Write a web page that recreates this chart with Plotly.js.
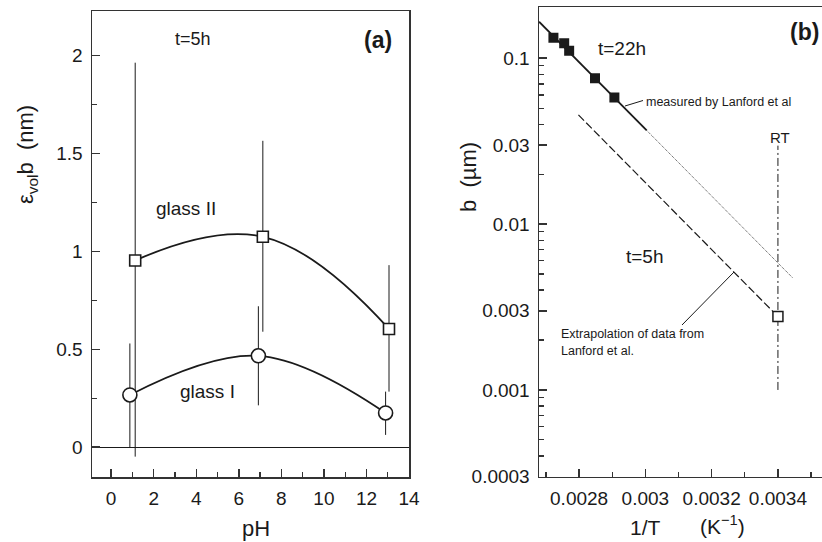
<!DOCTYPE html>
<html>
<head>
<meta charset="utf-8">
<script src="https://cdn.plot.ly/plotly-3.0.1.min.js"></script>
<style>html,body{margin:0;padding:0;background:#fff}#chart{width:822px;height:542px}</style>
</head>
<body>
<div id="chart"></div>
<script>
// ---------- Panel (a) data ----------
const pH_glass2 = [1.13, 7.13, 13.06];
const val_glass2 = [0.954, 1.075, 0.604];
const errTop_glass2 = [1.964, 1.565, 0.93];
const errBot_glass2 = [-0.048, 0.59, 0.284];

const pH_glass1 = [0.88, 6.92, 12.9];
const val_glass1 = [0.267, 0.467, 0.175];
const errTop_glass1 = [0.53, 0.72, 0.284];
const errBot_glass1 = [0.0, 0.214, 0.063];

const xTicksA = [0, 2, 4, 6, 8, 10, 12, 14];
const xMinorA = [1, 3, 5, 7, 9, 11, 13];
const yTicksA = [0, 0.5, 1, 1.5, 2];
const yTickTextA = ['0', '0.5', '1', '1.5', '2'];
const yMinorA = [0.25, 0.75, 1.25, 1.75];

// ---------- Panel (b) data ----------
const invT_22h = [0.0027225, 0.002755, 0.00277, 0.002848, 0.0029065];
const b_22h = [0.133, 0.123, 0.111, 0.0758, 0.0579];

const fitSolid_x = [0.002679, 0.003004];
const fitSolid_y = [0.166, 0.0367];
const fitDotted_x = [0.003004, 0.003445];
const fitDotted_y = [0.0367, 0.00473];

const extra5h_x = [0.002798, 0.0034];
const extra5h_y = [0.0455, 0.00277];

const point5h_x = [0.0034];
const point5h_y = [0.00277];

const rt_x = [0.0034, 0.0034];
const rt_y = [0.001, 0.0297];

const xTicksB = [0.0028, 0.003, 0.0032, 0.0034];
const xTickTextB = ['0.0028', '0.003', '0.0032', '0.0034'];
const xMinorB = [0.0027, 0.0029, 0.0031, 0.0033, 0.0035];
const yTicksB = [0.0003, 0.001, 0.003, 0.01, 0.03, 0.1];
const yTickTextB = ['0.0003', '0.001', '0.003', '0.01', '0.03', '0.1'];

// ---------- helpers ----------
const W = 822, H = 542;
const px = v => v / W;
const py = v => 1 - v / H;
const FONT = 'Liberation Sans, Arial, Helvetica, sans-serif';
const INK = '#1a1a1a';

const yMinorB = [];
[0.0001, 0.001, 0.01, 0.1].forEach(d => { for (let k = 2; k <= 9; k++) yMinorB.push(d * k); });

const diff = (a, b) => a.map((v, i) => v - b[i]);

const traces = [
  // glass II
  {
    x: pH_glass2, y: val_glass2, xaxis: 'x', yaxis: 'y', mode: 'lines+markers',
    line: {color: INK, width: 1.8, shape: 'spline', smoothing: 1.2},
    marker: {symbol: 'square', size: 11, color: '#fff', line: {color: INK, width: 1.6}},
    error_y: {type: 'data', symmetric: false, array: diff(errTop_glass2, val_glass2),
              arrayminus: diff(val_glass2, errBot_glass2), color: INK, thickness: 1, width: 0}
  },
  // glass I
  {
    x: pH_glass1, y: val_glass1, xaxis: 'x', yaxis: 'y', mode: 'lines+markers',
    line: {color: INK, width: 1.8, shape: 'spline', smoothing: 1.1},
    marker: {symbol: 'circle', size: 14, color: '#fff', line: {color: INK, width: 1.6}},
    error_y: {type: 'data', symmetric: false, array: diff(errTop_glass1, val_glass1),
              arrayminus: diff(val_glass1, errBot_glass1), color: INK, thickness: 1, width: 0}
  },
  // panel b lines
  {x: fitSolid_x, y: fitSolid_y, xaxis: 'x2', yaxis: 'y2', mode: 'lines',
   line: {color: INK, width: 1.8}},
  {x: fitDotted_x, y: fitDotted_y, xaxis: 'x2', yaxis: 'y2', mode: 'lines',
   line: {color: '#444', width: 1, dash: '1px,1px'}},
  {x: extra5h_x, y: extra5h_y, xaxis: 'x2', yaxis: 'y2', mode: 'lines',
   line: {color: INK, width: 1.2, dash: '8px,3px'}},
  {x: rt_x, y: rt_y, xaxis: 'x2', yaxis: 'y2', mode: 'lines',
   line: {color: INK, width: 1, dash: '8px,3px,2px,3px'}},
  {x: invT_22h, y: b_22h, xaxis: 'x2', yaxis: 'y2', mode: 'markers',
   marker: {symbol: 'square', size: 10, color: INK, line: {width: 0}}},
  {x: point5h_x, y: point5h_y, xaxis: 'x2', yaxis: 'y2', mode: 'markers',
   marker: {symbol: 'square', size: 10, color: '#fff', line: {color: INK, width: 1.5}}}
];

const axisCommon = {
  showline: true, linecolor: '#333', linewidth: 1.5, showgrid: false,
  ticks: 'inside', ticklen: 8, tickwidth: 1.5, tickcolor: '#333',
  tickfont: {family: FONT, size: 19, color: INK}, automargin: false, fixedrange: true
};

const layout = {
  width: W, height: H,
  margin: {l: 0, r: 0, t: 0, b: 0, pad: 0},
  paper_bgcolor: '#fff', plot_bgcolor: '#fff',
  showlegend: false,
  font: {family: FONT, color: INK},
  xaxis: Object.assign({}, axisCommon, {
    domain: [px(92), px(409)], range: [-0.9, 14], anchor: 'y', mirror: true,
    tickmode: 'array', tickvals: xTicksA, zeroline: false, ticklabelstandoff: 4,
    minor: {tickvals: xMinorA, ticks: 'inside', ticklen: 5, tickwidth: 1.2, tickcolor: '#333'}
  }),
  yaxis: Object.assign({}, axisCommon, {
    domain: [py(477), py(11)], range: [-0.152, 2.228], anchor: 'x', mirror: true,
    tickmode: 'array', tickvals: yTicksA, ticktext: yTickTextA,
    zeroline: true, zerolinecolor: INK, zerolinewidth: 1, ticklabelstandoff: 4,
    minor: {tickvals: yMinorA, ticks: 'inside', ticklen: 5, tickwidth: 1.2, tickcolor: '#333'}
  }),
  xaxis2: Object.assign({}, axisCommon, {
    domain: [px(539), 1], range: [0.002679, 0.003533], anchor: 'y2', mirror: true,
    tickmode: 'array', tickvals: xTicksB, ticktext: xTickTextB, zeroline: false, ticklabelstandoff: 4,
    minor: {tickvals: xMinorB, ticks: 'inside', ticklen: 5, tickwidth: 1.2, tickcolor: '#333'}
  }),
  yaxis2: Object.assign({}, axisCommon, {
    type: 'log', domain: [py(476.7), py(7.3)], range: [-3.523, -0.693], anchor: 'x2', mirror: false,
    tickmode: 'array', tickvals: yTicksB, ticktext: yTickTextB, zeroline: false, ticklabelstandoff: 4,
    minor: {tickvals: yMinorB, ticks: 'inside', ticklen: 5, tickwidth: 1.2, tickcolor: '#333'}
  }),
  annotations: [
    // panel a
    {text: 't=5h', x: px(193), y: py(39), font: {size: 18}},
    {text: '<b>(a)</b>', x: px(378), y: py(40), font: {size: 23}},
    {text: 'glass II', x: px(186), y: py(208), font: {size: 19}},
    {text: 'glass I', x: px(207), y: py(391), font: {size: 19}},
    {text: 'pH', x: px(256), y: py(528), font: {size: 22}},
    {text: 'ε<sub>vol</sub>b\u00a0\u00a0(nm)', x: px(27), y: py(155), textangle: -90, font: {size: 22}},
    // panel b
    {text: '<b>(b)</b>', x: px(804), y: py(32), font: {size: 23}},
    {text: 't=22h', x: px(622), y: py(48), font: {size: 19}},
    {text: 't=5h', x: px(645), y: py(256), font: {size: 19}},
    {text: 'RT', x: px(780), y: py(137), font: {size: 15}},
    {text: 'measured by Lanford et al', x: px(644), y: py(102), xanchor: 'left', font: {size: 12.5}},
    {text: 'Extrapolation of data from', x: px(559), y: py(334), xanchor: 'left', font: {size: 12.5}},
    {text: 'Lanford et al.', x: px(559), y: py(351), xanchor: 'left', font: {size: 12.5}},
    {text: 'b\u00a0\u00a0(µm)', x: px(468), y: py(177), textangle: -90, font: {size: 22}},
    {text: '1/T', x: px(645), y: py(527), font: {size: 21}},
    {text: '(K<sup>−1</sup>)', x: px(722), y: py(525), font: {size: 21}}
  ].map(a => Object.assign({xref: 'paper', yref: 'paper', showarrow: false,
      xanchor: 'center', yanchor: 'middle'}, a, {font: Object.assign({family: FONT, color: INK}, a.font)})),
  shapes: [
    {type: 'line', xref: 'paper', yref: 'paper', x0: px(625), y0: py(106), x1: px(643), y1: py(100.5),
     line: {color: INK, width: 1}},
    {type: 'line', xref: 'paper', yref: 'paper', x0: px(682), y0: py(325), x1: px(734), y1: py(272),
     line: {color: INK, width: 1}}
  ]
};

Plotly.newPlot('chart', traces, layout, {staticPlot: true, displayModeBar: false});
</script>
</body>
</html>
